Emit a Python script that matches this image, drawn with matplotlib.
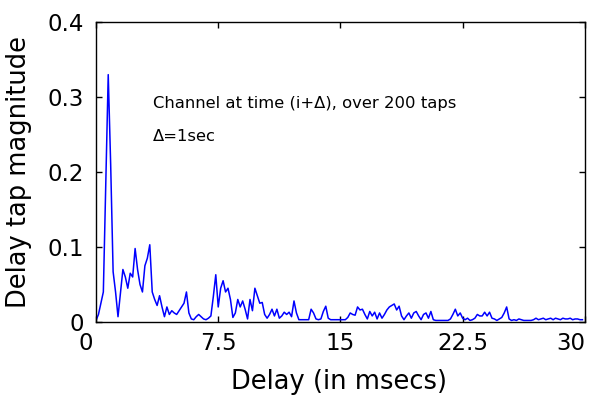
import numpy as np
import matplotlib
matplotlib.use("Agg")
import matplotlib.pyplot as plt
import matplotlib.transforms as mtransforms

plt.rcParams['font.family'] = ['DejaVu Sans']

tap_spacing_ms = 0.15
magnitudes = [
    0.002, 0.010, 0.025, 0.040, 0.187, 0.330, 0.210, 0.067, 0.040, 0.007,
    0.038, 0.070, 0.060, 0.045, 0.065, 0.060, 0.098, 0.070, 0.050, 0.040,
    0.075, 0.085, 0.103, 0.040, 0.030, 0.022, 0.035, 0.020, 0.007, 0.020,
    0.010, 0.015, 0.012, 0.010, 0.015, 0.020, 0.025, 0.040, 0.012, 0.004,
    0.003, 0.007, 0.010, 0.007, 0.004, 0.003, 0.005, 0.008, 0.034, 0.063,
    0.020, 0.045, 0.055, 0.040, 0.045, 0.030, 0.006, 0.012, 0.030, 0.020,
    0.028, 0.017, 0.004, 0.030, 0.015, 0.045, 0.035, 0.025, 0.026, 0.010,
    0.005, 0.010, 0.017, 0.008, 0.017, 0.005, 0.008, 0.013, 0.010, 0.013,
    0.007, 0.028, 0.012, 0.003, 0.003, 0.003, 0.003, 0.003, 0.017, 0.012,
    0.004, 0.003, 0.004, 0.014, 0.021, 0.005, 0.003, 0.003, 0.003, 0.003,
    0.003, 0.003, 0.003, 0.006, 0.012, 0.010, 0.009, 0.020, 0.016, 0.017,
    0.010, 0.004, 0.014, 0.008, 0.013, 0.004, 0.012, 0.005, 0.010, 0.016,
    0.020, 0.022, 0.024, 0.016, 0.021, 0.008, 0.003, 0.008, 0.012, 0.005,
    0.012, 0.014, 0.008, 0.003, 0.010, 0.012, 0.005, 0.014, 0.003, 0.002,
    0.002, 0.002, 0.002, 0.002, 0.002, 0.004, 0.010, 0.017, 0.008, 0.012,
    0.005, 0.003, 0.005, 0.002, 0.003, 0.005, 0.010, 0.008, 0.008, 0.013,
    0.008, 0.013, 0.005, 0.004, 0.002, 0.004, 0.006, 0.012, 0.020, 0.004,
    0.002, 0.003, 0.002, 0.004, 0.003, 0.002, 0.002, 0.002, 0.002, 0.003,
    0.005, 0.003, 0.004, 0.005, 0.003, 0.004, 0.005, 0.003, 0.005, 0.004,
    0.003, 0.005, 0.004, 0.004, 0.005, 0.003, 0.004, 0.004, 0.003, 0.003,
]
delays = np.arange(len(magnitudes)) * tap_spacing_ms

xticks = [0, 7.5, 15, 22.5, 30]
xticklabels = ['0', '7.5', '15', '22.5', '30']
yticks = [0, 0.1, 0.2, 0.3, 0.4]
yticklabels = ['0', '0.1', '0.2', '0.3', '0.4']

fig = plt.figure(figsize=(5.89, 3.96), dpi=100)
ax = fig.add_axes([0.163, 0.187, 0.830, 0.757])
ax.plot(delays, magnitudes, color='#0000ff', lw=1.1)
ax.set_xlim(0, 30)
ax.set_ylim(0, 0.4)
ax.set_xticks(xticks)
ax.set_xticklabels(xticklabels)
ax.set_yticks(yticks)
ax.set_yticklabels(yticklabels)
ax.tick_params(direction='in', length=4, labelsize=16.5, top=True, right=True,
               width=1)
ax.tick_params(axis='y', pad=9)
ax.tick_params(axis='x', pad=7)
for s in ax.spines.values():
    s.set_linewidth(1.0)

# keep end labels inside, as in the reference
xl = ax.get_xticklabels()
xl[-1].set_ha('right')
xl[0].set_transform(xl[0].get_transform() +
                    mtransforms.ScaledTranslation(-10 / 100, 0, fig.dpi_scale_trans))

ax.set_xlabel('Delay (in msecs)', fontsize=18.5)
ax.xaxis.set_label_coords(0.497, -0.2)
ax.xaxis.label.set_va('center')
ax.set_ylabel('Delay tap magnitude', fontsize=18.5)
ax.yaxis.set_label_coords(-0.157, 0.5)
ax.yaxis.label.set_va('center')

ax.text(3.5, 0.292, 'Channel at time (i+Δ), over 200 taps', fontsize=11.8,
        va='center', ha='left')
ax.text(3.5, 0.247, 'Δ=1sec', fontsize=11.8, va='center', ha='left')

fig.savefig('out.png', dpi=100)
